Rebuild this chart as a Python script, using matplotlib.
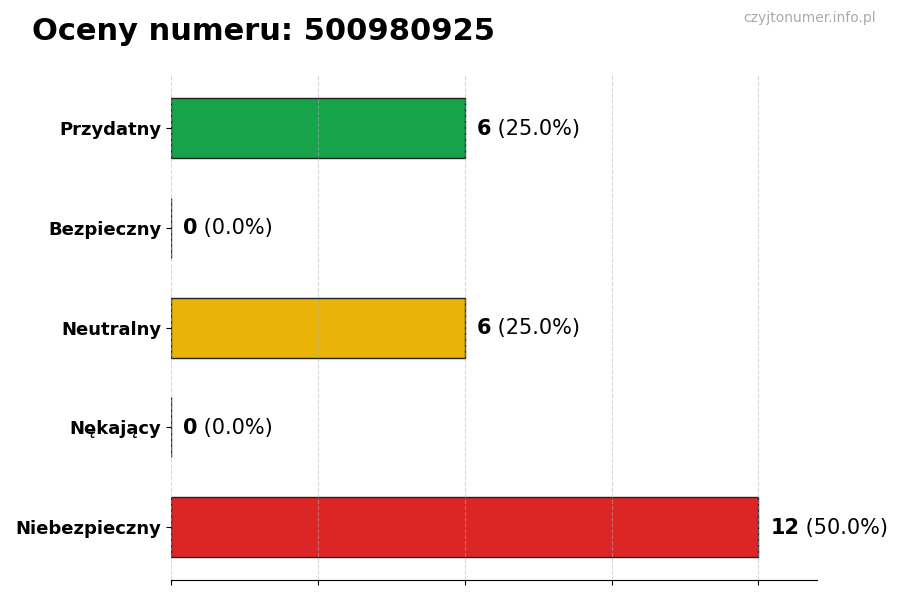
import matplotlib.pyplot as plt
import numpy as np

categories = ["Przydatny", "Bezpieczny", "Neutralny", "Nękający", "Niebezpieczny"]
counts = [6, 0, 6, 0, 12]
colors = ["#16a34a", "#9ca3af", "#eab308", "#f97316", "#dc2626"]
number = "500980925"

total = sum(counts)
y = np.arange(len(categories))[::-1]

fig = plt.figure(figsize=(9, 6), dpi=100)
ax = fig.add_axes([0.19, 0.033, 0.718, 0.842])

ax.barh(y, counts, height=0.6, color=colors, edgecolor="#222222", linewidth=1)

# value labels: bold count + percent
for yi, c in zip(y, counts):
    pct = c / total * 100 if total else 0
    t = ax.annotate(f"{c}", (c, yi), xytext=(8.5, -0.5), textcoords="offset points",
                    va="center", ha="left", fontsize=15, fontweight="bold")
    ax.annotate(f" ({pct:.1f}%)", (1, 0.5), xycoords=t, va="center", ha="left", fontsize=15)

ax.set_yticks(y)
ax.set_yticklabels(categories, fontsize=13, fontweight="bold")
ax.set_xlim(0, max(counts) * 1.1)
ax.set_ylim(-0.53, len(categories) - 1 + 0.53)
ax.set_xticks(np.arange(0, max(counts) + 1, 3))
ax.set_xticklabels([])
ax.grid(axis="x", linestyle="--", alpha=0.5)
ax.set_axisbelow(False)

for s in ["top", "right", "left"]:
    ax.spines[s].set_visible(False)

fig.text(0.035, 0.947, f"Oceny numeru: {number}", fontsize=22, fontweight="bold", va="center")
fig.text(0.973, 0.97, "czyjtonumer.info.pl", fontsize=10, color="#aaaaaa", ha="right", va="center")

plt.savefig("out.png", dpi=100)
